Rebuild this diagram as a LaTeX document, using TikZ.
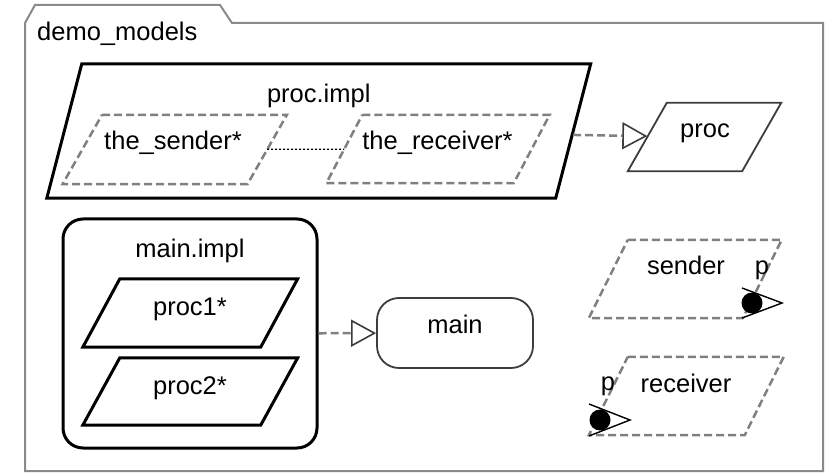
\documentclass[tikz,border=0pt]{standalone}
\usepackage{fontspec}
\setmainfont{Liberation Sans}
\usetikzlibrary{arrows.meta,calc}

\definecolor{framegrey}{HTML}{8A8A8A}
\definecolor{dashgrey}{HTML}{808080}
\definecolor{edgegrey}{HTML}{3C3C3C}

\tikzset{
  txt/.style={font=\fontsize{25.5}{30}\selectfont, text=black, inner sep=0pt, anchor=base},
  % body of a parallelogram: the rectangle through the midpoints of its slanted sides
  parabody/.style={draw=none, inner sep=0pt},
  heavy/.style={draw=black, line width=3},
  ghost/.style={draw=dashgrey, line width=2.5, dash pattern=on 8pt off 4pt},
  plain/.style={draw=edgegrey, line width=1.8},
  realizes/.style={draw=dashgrey, line width=2.5, dash pattern=on 8pt off 4pt,
    -{Triangle[open, length=25pt, width=27pt, line width=1.6pt, color=edgegrey]}},
  link/.style={draw=black, line width=1.2, dash pattern=on 2pt off 2pt},
  portdot/.style={circle, fill=black, draw=none, inner sep=0pt, minimum size=21pt},
  porttip/.style={draw=black, line width=1.4},
}

% outline of a parallelogram around a body node; #2 is half the horizontal shear
\newcommand\paraoutline[3]{%
  \draw[#3] ([xshift=#2]#1.north west) -- ([xshift=#2]#1.north east)
    -- ([xshift=-#2]#1.south east) -- ([xshift=-#2]#1.south west) -- cycle;}

\begin{document}
\begin{tikzpicture}[x=1pt,y=-1pt]
\useasboundingbox (0,0) rectangle (833,473);

% package frame with its tab
\draw[framegrey, line width=2] (25,471) -- (25,23) -- (35,5) -- (220,5) -- (232,23)
  -- (823,23) -- (823,471) -- cycle;
\node[txt, anchor=base west] (pkgname) at (37,41) {demo\_models};

% proc.impl with its two subcomponents
\node[parabody, minimum width=508.5, minimum height=134] (procimpl) at (318.75,131) {};
\paraoutline{procimpl}{17.5}{heavy}
\node[txt] (procimpl-name) at (318.75,103) {proc.impl};

\node[parabody, minimum width=184.5, minimum height=69] (thesender) at (174.75,149.5) {};
\paraoutline{thesender}{19.75}{ghost}
\node[txt] (thesender-name) at (173,150) {the\_sender*};

\node[parabody, minimum width=187, minimum height=68] (thereceiver) at (438,149) {};
\paraoutline{thereceiver}{18}{ghost}
\node[txt] (thereceiver-name) at (437.5,150) {the\_receiver*};

\draw[link] (thesender) -- (thereceiver);

% proc type
\node[parabody, minimum width=114, minimum height=68] (proc) at (704.5,137) {};
\paraoutline{proc}{19.5}{plain}
\node[txt] (proc-name) at (705,138) {proc};

\draw[realizes] (procimpl) -- (proc);

% main.impl with proc1 and proc2
\node[draw=black, line width=3, rounded corners=20pt, inner sep=0pt,
  minimum width=254, minimum height=229] (mainimpl) at (190,333.5) {};
\node[txt] (mainimpl-name) at (190,258) {main.impl};

\node[parabody, minimum width=177.5, minimum height=68] (proc1) at (190.25,313) {};
\paraoutline{proc1}{18.5}{heavy}
\node[txt] (proc1-name) at (190,316) {proc1*};

\node[parabody, minimum width=177.5, minimum height=67] (proc2) at (190.25,391.5) {};
\paraoutline{proc2}{18.5}{heavy}
\node[txt] (proc2-name) at (190,394) {proc2*};

% main type
\node[draw=edgegrey, line width=1.8, rounded corners=22pt, inner sep=0pt,
  minimum width=156, minimum height=70] (main) at (455,333) {};
\node[txt] (main-name) at (455,333) {main};

\draw[realizes] (mainimpl) -- (main);

% sender with outgoing port p
\node[parabody, minimum width=153.5, minimum height=78] (sender) at (685.25,279) {};
\paraoutline{sender}{19.5}{ghost}
\node[txt] (sender-name) at (686,275) {sender};
\coordinate (sender-port) at (752,303);
\draw[porttip] ($(sender-port)+(-10,-15)$) -- ($(sender-port)+(30,0)$) -- ($(sender-port)+(-10,15)$);
\node[portdot] (sender-p) at (sender-port) {};
\node[txt] (sender-p-name) at (762,275) {p};

% receiver with incoming port p
\node[parabody, minimum width=155.5, minimum height=78] (receiver) at (686.25,396) {};
\paraoutline{receiver}{19.5}{ghost}
\node[txt] (receiver-name) at (686,392) {receiver};
\coordinate (receiver-port) at (600,420);
\draw[porttip] ($(receiver-port)+(-11,-16)$) -- ($(receiver-port)+(30,0)$) -- ($(receiver-port)+(-11,16)$);
\node[portdot] (receiver-p) at (receiver-port) {};
\node[txt] (receiver-p-name) at (608,390) {p};
\end{tikzpicture}
\end{document}
